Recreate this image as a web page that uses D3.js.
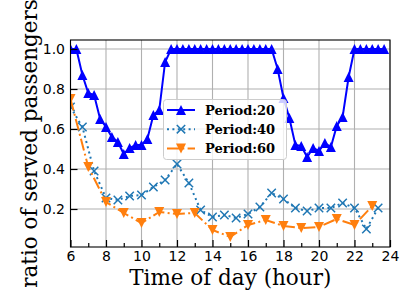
<!DOCTYPE html>
<html>
<head>
<meta charset="utf-8">
<script src="https://cdn.jsdelivr.net/npm/d3@7"></script>
<style>
    body { margin: 0; background: #fff; }
    svg { display: block; }
    .tick text { font-family: "DejaVu Sans", sans-serif; font-size: 14px; fill: #000; }
</style>
</head>
<body>
<div id="div-grafico"></div>
<script>

// data
var hours20 = [6.00, 6.33, 6.67, 7.00, 7.33, 7.67, 8.00, 8.33, 8.67, 9.00, 9.33, 9.67,
    10.00, 10.33, 10.67, 11.00, 11.33, 11.67, 12.00, 12.33, 12.67, 13.00, 13.33, 13.67,
    14.00, 14.33, 14.67, 15.00, 15.33, 15.67, 16.00, 16.33, 16.67, 17.00, 17.33, 17.67,
    18.00, 18.33, 18.67, 19.00, 19.33, 19.67, 20.00, 20.33, 20.67, 21.00, 21.33, 21.67,
    22.00, 22.33, 22.67, 23.00, 23.33, 23.67];
var ratio20 = [1.0, 1.0, 0.87, 0.78, 0.77, 0.65, 0.61, 0.56, 0.535, 0.475, 0.505, 0.52,
    0.52, 0.55, 0.67, 0.695, 0.935, 1.0, 1.0, 1.0, 1.0, 1.0, 1.0, 1.0,
    1.0, 1.0, 1.0, 1.0, 1.0, 1.0, 1.0, 1.0, 1.0, 1.0, 1.0, 0.90,
    0.755, 0.655, 0.52, 0.515, 0.46, 0.505, 0.49, 0.53, 0.51, 0.615, 0.66, 0.86,
    1.0, 1.0, 1.0, 1.0, 1.0, 1.0];

var hours40 = [6.00, 6.67, 7.33, 8.00, 8.67, 9.33, 10.00, 10.67, 11.33, 12.00, 12.67, 13.33,
    14.00, 14.67, 15.33, 16.00, 16.67, 17.33, 18.00, 18.67, 19.33, 20.00, 20.67, 21.33,
    22.00, 22.67, 23.33];
var ratio40 = [0.71, 0.61, 0.39, 0.255, 0.245, 0.265, 0.27, 0.31, 0.345, 0.425, 0.33, 0.195,
    0.16, 0.17, 0.155, 0.175, 0.21, 0.28, 0.25, 0.205, 0.19, 0.205, 0.205, 0.23,
    0.205, 0.10, 0.205];

var hours60 = [6, 7, 8, 9, 10, 11, 12, 13, 14, 15, 16, 17, 18, 19, 20, 21, 22, 23];
var ratio60 = [0.75, 0.41, 0.235, 0.18, 0.13, 0.185, 0.175, 0.18, 0.095, 0.06, 0.12, 0.145,
    0.115, 0.105, 0.11, 0.15, 0.12, 0.215];

var seriesNames = ["Period:20", "Period:40", "Period:60"];
var xTicks = [6, 8, 10, 12, 14, 16, 18, 20, 22, 24];
var xMinorTicks = [7, 9, 11, 13, 15, 17, 19, 21, 23];
var yTicks = [0.2, 0.4, 0.6, 0.8, 1.0];

// set the dimensions and margins of the graph
var margin = { top: 40, right: 22, bottom: 51, left: 70.5 },
    width = 412 - margin.left - margin.right,
    height = 298 - margin.top - margin.bottom;

// set the ranges
var x = d3.scaleLinear().domain([6, 24]).range([0, width]);
var y = d3.scaleLinear().domain([0.01, 1.045]).range([height, 0]);

var svg = d3.select("#div-grafico").append("svg")
    .attr("width", 412)
    .attr("height", 298);

var g = svg.append("g")
    .attr("transform", "translate(" + margin.left + "," + margin.top + ")");

svg.append("defs").append("clipPath")
    .attr("id", "clip")
    .append("rect")
    .attr("width", width)
    .attr("height", height);

// grid
g.append("g").selectAll("line")
    .data(xTicks)
    .enter().append("line")
    .attr("x1", function (d) { return x(d); })
    .attr("x2", function (d) { return x(d); })
    .attr("y1", 0).attr("y2", height)
    .attr("stroke", "#b0b0b0").attr("stroke-width", 1.1);

g.append("g").selectAll("line")
    .data(yTicks)
    .enter().append("line")
    .attr("y1", function (d) { return y(d); })
    .attr("y2", function (d) { return y(d); })
    .attr("x1", 0).attr("x2", width)
    .attr("stroke", "#b0b0b0").attr("stroke-width", 1.1);

// series
function makeData(hours, vals) {
    return hours.map(function (h, i) { return { hour: h, ratio: vals[i] }; });
}
var series = [
    { name: seriesNames[0], data: makeData(hours20, ratio20), color: "#0000ff", dash: null, marker: "up" },
    { name: seriesNames[1], data: makeData(hours40, ratio40), color: "#1f77b4", dash: "2,3.4", marker: "x" },
    { name: seriesNames[2], data: makeData(hours60, ratio60), color: "#ff7f0e", dash: "12,3.3,2,3.3", marker: "down" }
];

var valueline = d3.line()
    .x(function (d) { return x(d.hour); })
    .y(function (d) { return y(d.ratio); });

function drawMarker(sel, kind, color) {
    if (kind === "x") {
        sel.append("path")
            .attr("d", "M-4.2,-4.2L4.2,4.2M-4.2,4.2L4.2,-4.2")
            .attr("stroke", color).attr("stroke-width", 1.5).attr("fill", "none");
    } else {
        var s = 5;
        var d = kind === "up"
            ? "M0," + (-s) + "L" + s + "," + s + "L" + (-s) + "," + s + "Z"
            : "M0," + s + "L" + s + "," + (-s) + "L" + (-s) + "," + (-s) + "Z";
        sel.append("path").attr("d", d).attr("fill", color);
    }
}

var plot = g.append("g").attr("clip-path", "url(#clip)");

series.forEach(function (s) {
    plot.append("path")
        .data([s.data])
        .attr("fill", "none")
        .attr("stroke", s.color)
        .attr("stroke-width", 2)
        .attr("stroke-dasharray", s.dash)
        .attr("d", valueline);

    plot.append("g").selectAll("g")
        .data(s.data)
        .enter().append("g")
        .attr("transform", function (d) { return "translate(" + x(d.hour) + "," + y(d.ratio) + ")"; })
        .each(function () { drawMarker(d3.select(this), s.marker, s.color); });
});

// axes
g.append("g")
    .attr("transform", "translate(0," + height + ")")
    .call(d3.axisBottom(x).tickValues(xTicks).tickSizeInner(-7).tickSizeOuter(0).tickPadding(4.5));
g.append("g")
    .attr("transform", "translate(0," + height + ")")
    .call(d3.axisBottom(x).tickValues(xMinorTicks).tickSizeInner(-4).tickSizeOuter(0).tickFormat(""));
g.append("g")
    .call(d3.axisLeft(y).tickValues(yTicks).tickFormat(d3.format(".1f")).tickSizeInner(-7).tickSizeOuter(0).tickPadding(5.5));

g.selectAll(".domain").remove();
g.selectAll(".tick line").attr("stroke", "#000").attr("stroke-width", 1.2);

// frame
g.append("rect")
    .attr("width", width).attr("height", height)
    .attr("fill", "none").attr("stroke", "#000").attr("stroke-width", 1.1);

// axis labels
svg.append("text")
    .attr("x", margin.left + width / 2)
    .attr("y", 285)
    .attr("text-anchor", "middle")
    .style("font-family", "DejaVu Serif, serif")
    .style("font-size", "21.5px")
    .text("Time of day (hour)");

svg.append("text")
    .attr("transform", "translate(37," + (margin.top + height / 2) + ") rotate(-90)")
    .attr("text-anchor", "middle")
    .style("font-family", "DejaVu Serif, serif")
    .style("font-size", "21.5px")
    .text("ratio of served passengers");

// legend
var legend = svg.append("g").attr("transform", "translate(163.5,99.5)");
legend.append("rect")
    .attr("width", 123).attr("height", 60).attr("rx", 3)
    .attr("fill", "#fff").attr("fill-opacity", 0.8)
    .attr("stroke", "#cccccc").attr("stroke-width", 1);

series.forEach(function (s, i) {
    var row = legend.append("g").attr("transform", "translate(0," + (10.5 + i * 19.2) + ")");
    row.append("line")
        .attr("x1", 3.5).attr("x2", 31.5)
        .attr("stroke", s.color).attr("stroke-width", 2)
        .attr("stroke-dasharray", s.dash);
    var m = row.append("g").attr("transform", "translate(17.5,0)");
    drawMarker(m, s.marker, s.color);
    row.append("text")
        .attr("x", 41.5).attr("y", 4.8)
        .style("font-family", "DejaVu Serif, serif")
        .style("font-weight", "bold")
        .style("font-size", "13px")
        .text(s.name);
});

</script>
</body>
</html>
